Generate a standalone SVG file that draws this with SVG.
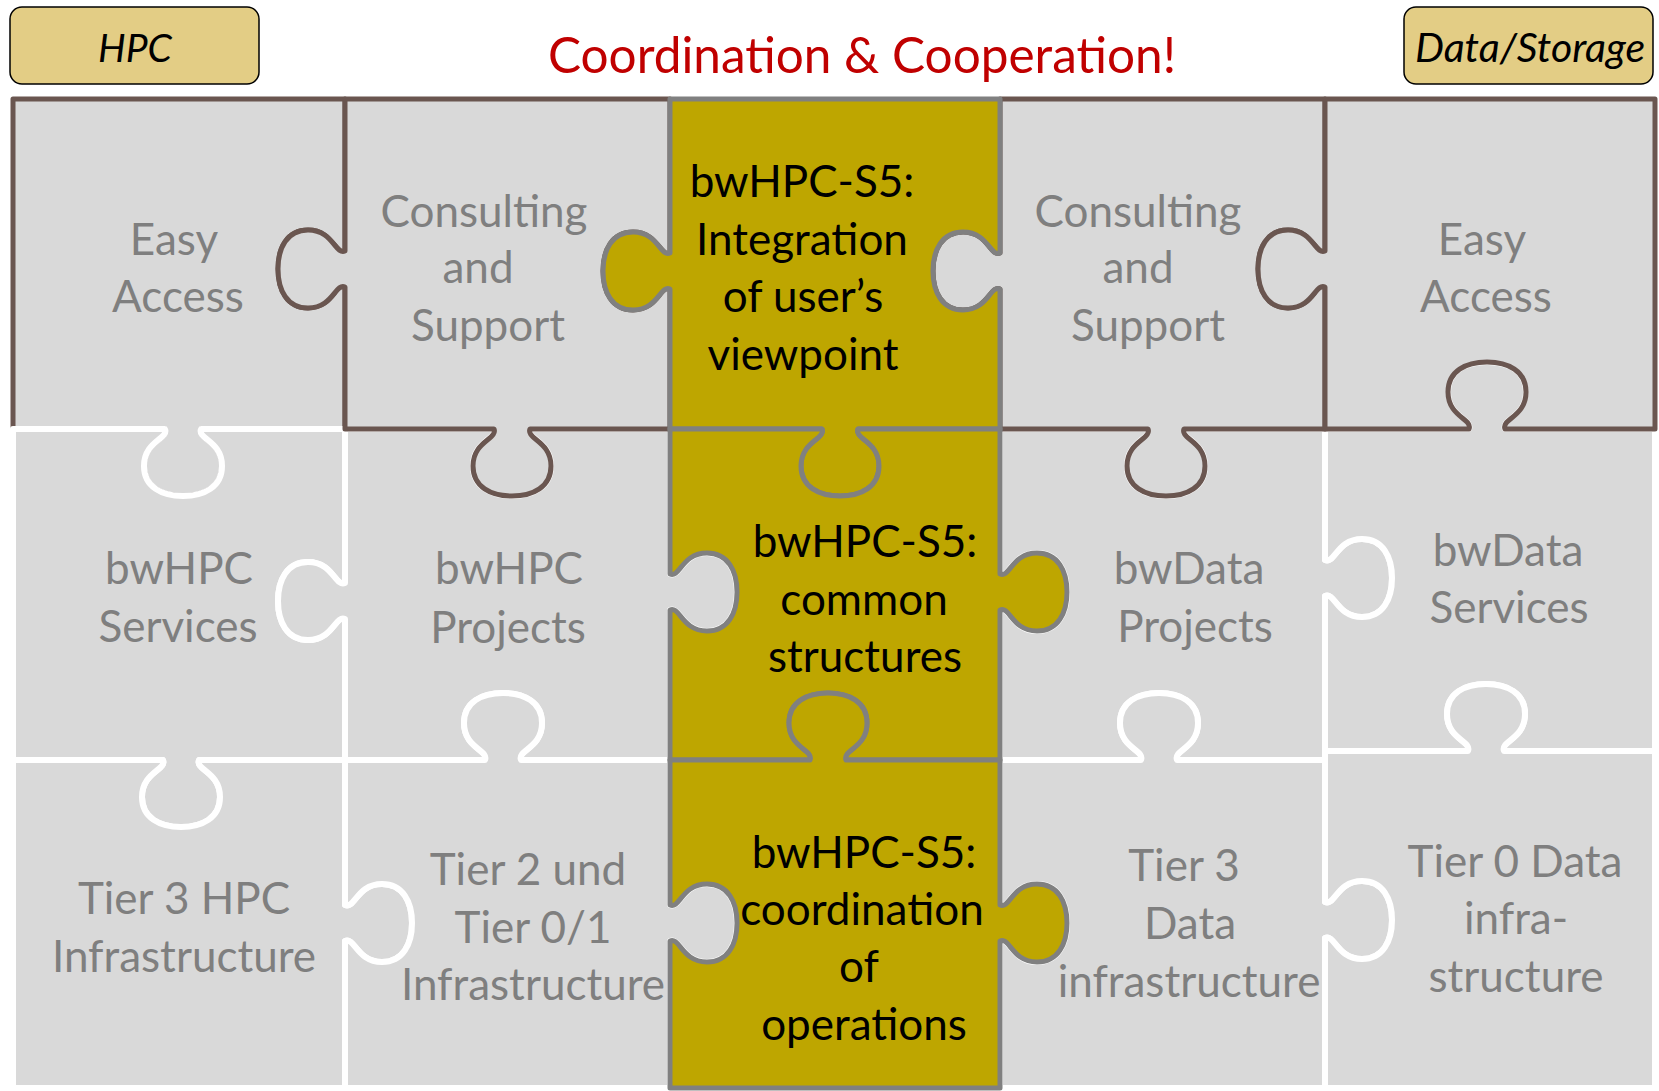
<svg xmlns="http://www.w3.org/2000/svg" width="1659" height="1091" viewBox="0 0 1659 1091">
<style>
.pc{fill:#D9D9D9;stroke-linejoin:round}
.br{stroke:#6A5650;stroke-width:5}
.wh{stroke:#FFFFFF;stroke-width:6}
.ye{fill:#BEA600;stroke:#808080;stroke-width:5;stroke-linejoin:round}
.t{font-family:Lato,"Liberation Sans",sans-serif;font-size:44px;fill:#7F7F7F;text-anchor:middle}
.k{font-family:Lato,"Liberation Sans",sans-serif;font-size:44px;fill:#000000;text-anchor:middle}
.lab{fill:#E3CD85;stroke:#000000;stroke-width:1.5}
.lt{font-family:Lato,"Liberation Sans",sans-serif;font-style:italic;fill:#000000;text-anchor:middle}
</style>
<rect width="1659" height="1091" fill="#FFFFFF"/>
<g id="hpc-label"><rect class="lab" x="10" y="7" width="249" height="77" rx="12"/><text class="lt" x="135" y="62" font-size="39">HPC</text></g>
<g id="data-label"><rect class="lab" x="1404" y="7" width="249" height="77" rx="12"/><text class="lt" x="1530" y="62" font-size="41">Data/Storage</text></g>
<text id="title" x="862" y="73" font-family="Lato,'Liberation Sans',sans-serif" font-size="49.5" fill="#C00000" text-anchor="middle">Coordination &amp; Cooperation!</text>

<g id="easy-access-hpc"><path class="pc br" d="M 13 99 L 345 99 L 345 251 C 335 255 333 230 308 230 C 287 230 278 248 278 269 C 278 290 287 308 308 308 C 333 308 335 283 345 287 L 345 429 L 201 429 C 197 439 222 441 222 466 C 222 487 204 496 183 496 C 162 496 144 487 144 466 C 144 441 169 439 165 429 L 13 429 Z"/>
<text class="t" x="174" y="255">Easy</text><text class="t" x="178" y="312">Access</text></g>

<g id="bwhpc-services"><path class="pc wh" d="M 13 429 L 165 429 C 169 439 144 441 144 466 C 144 487 162 496 183 496 C 204 496 222 487 222 466 C 222 441 197 439 201 429 L 345 429 L 345 583 C 335 587 333 562 308 562 C 287 562 278 580 278 601 C 278 622 287 640 308 640 C 333 640 335 615 345 619 L 345 760 L 199 760 C 195 770 220 772 220 797 C 220 818 202 827 181 827 C 160 827 142 818 142 797 C 142 772 167 770 163 760 L 13 760 Z"/>
<text class="t" x="179" y="584">bwHPC</text><text class="t" x="178" y="642">Services</text></g>

<g id="bwhpc-projects"><path class="pc wh" d="M 345 429 L 494 429 C 498 439 473 441 473 466 C 473 487 491 496 512 496 C 533 496 551 487 551 466 C 551 441 526 439 530 429 L 670 429 L 670 574 C 680 578 682 553 707 553 C 728 553 737 571 737 592 C 737 613 728 631 707 631 C 682 631 680 606 670 610 L 670 760 L 521 760 C 517 750 542 748 542 723 C 542 702 524 693 503 693 C 482 693 464 702 464 723 C 464 748 489 750 485 760 L 345 760 L 345 619 C 335 615 333 640 308 640 C 287 640 278 622 278 601 C 278 580 287 562 308 562 C 333 562 335 587 345 583 Z"/>
<text class="t" x="509" y="584">bwHPC</text><text class="t" x="508" y="643">Projects</text></g>

<g id="consulting-hpc"><path class="pc br" d="M 345 99 L 670 99 L 670 253 C 660 257 658 232 633 232 C 612 232 603 250 603 271 C 603 292 612 310 633 310 C 658 310 660 285 670 289 L 670 429 L 530 429 C 526 439 551 441 551 466 C 551 487 533 496 512 496 C 491 496 473 487 473 466 C 473 441 498 439 494 429 L 345 429 L 345 287 C 335 283 333 308 308 308 C 287 308 278 290 278 269 C 278 248 287 230 308 230 C 333 230 335 255 345 251 Z"/>
<text class="t" x="484" y="227">Consulting</text><text class="t" x="478" y="283">and</text><text class="t" x="488" y="341">Support</text></g>

<g id="bwdata-projects"><path class="pc wh" d="M 1000 429 L 1148 429 C 1152 439 1127 441 1127 466 C 1127 487 1145 496 1166 496 C 1187 496 1205 487 1205 466 C 1205 441 1180 439 1184 429 L 1325 429 L 1325 560 C 1335 564 1337 539 1362 539 C 1383 539 1392 557 1392 578 C 1392 599 1383 617 1362 617 C 1337 617 1335 592 1325 596 L 1325 760 L 1177 760 C 1173 750 1198 748 1198 723 C 1198 702 1180 693 1159 693 C 1138 693 1120 702 1120 723 C 1120 748 1145 750 1141 760 L 1000 760 L 1000 610 C 1010 606 1012 631 1037 631 C 1058 631 1067 613 1067 592 C 1067 571 1058 553 1037 553 C 1012 553 1010 578 1000 574 Z"/>
<text class="t" x="1189" y="584">bwData</text><text class="t" x="1195" y="642">Projects</text></g>

<g id="bwdata-services"><path class="pc wh" d="M 1325 429 L 1469 429 C 1473 419 1448 417 1448 392 C 1448 371 1466 362 1487 362 C 1508 362 1526 371 1526 392 C 1526 417 1501 419 1505 429 L 1655 429 L 1655 751 L 1504 751 C 1500 741 1525 739 1525 714 C 1525 693 1507 684 1486 684 C 1465 684 1447 693 1447 714 C 1447 739 1472 741 1468 751 L 1325 751 L 1325 596 C 1335 592 1337 617 1362 617 C 1383 617 1392 599 1392 578 C 1392 557 1383 539 1362 539 C 1337 539 1335 564 1325 560 Z"/>
<text class="t" x="1508" y="566">bwData</text><text class="t" x="1509" y="623">Services</text></g>

<g id="consulting-data"><path class="pc br" d="M 1000 99 L 1325 99 L 1325 251 C 1315 255 1313 230 1288 230 C 1267 230 1258 248 1258 269 C 1258 290 1267 308 1288 308 C 1313 308 1315 283 1325 287 L 1325 429 L 1184 429 C 1180 439 1205 441 1205 466 C 1205 487 1187 496 1166 496 C 1145 496 1127 487 1127 466 C 1127 441 1152 439 1148 429 L 1000 429 L 1000 289 C 990 285 988 310 963 310 C 942 310 933 292 933 271 C 933 250 942 232 963 232 C 988 232 990 257 1000 253 Z"/>
<text class="t" x="1138" y="227">Consulting</text><text class="t" x="1138" y="283">and</text><text class="t" x="1148" y="341">Support</text></g>

<g id="easy-access-data"><path class="pc br" d="M 1325 99 L 1655 99 L 1655 429 L 1505 429 C 1501 419 1526 417 1526 392 C 1526 371 1508 362 1487 362 C 1466 362 1448 371 1448 392 C 1448 417 1473 419 1469 429 L 1325 429 L 1325 287 C 1315 283 1313 308 1288 308 C 1267 308 1258 290 1258 269 C 1258 248 1267 230 1288 230 C 1313 230 1315 255 1325 251 Z"/>
<text class="t" x="1482" y="255">Easy</text><text class="t" x="1486" y="312">Access</text></g>

<g id="tier3-hpc"><path class="pc wh" d="M 13 760 L 163 760 C 167 770 142 772 142 797 C 142 818 160 827 181 827 C 202 827 220 818 220 797 C 220 772 195 770 199 760 L 345 760 L 345 905 C 355 909 357 884 382 884 C 403 884 412 902 412 923 C 412 944 403 962 382 962 C 357 962 355 937 345 941 L 345 1088 L 13 1088 Z"/>
<text class="t" x="184" y="914">Tier 3 HPC</text><text class="t" x="184" y="972">Infrastructure</text></g>

<g id="tier2-hpc"><path class="pc wh" d="M 345 760 L 485 760 C 489 750 464 748 464 723 C 464 702 482 693 503 693 C 524 693 542 702 542 723 C 542 748 517 750 521 760 L 670 760 L 670 905 C 680 909 682 884 707 884 C 728 884 737 902 737 923 C 737 944 728 962 707 962 C 682 962 680 937 670 941 L 670 1088 L 345 1088 L 345 941 C 355 937 357 962 382 962 C 403 962 412 944 412 923 C 412 902 403 884 382 884 C 357 884 355 909 345 905 Z"/>
<text class="t" x="528" y="885">Tier 2 und</text><text class="t" x="533" y="943">Tier 0/1</text><text class="t" x="533" y="1000">Infrastructure</text></g>

<g id="tier3-data"><path class="pc wh" d="M 1000 760 L 1141 760 C 1145 750 1120 748 1120 723 C 1120 702 1138 693 1159 693 C 1180 693 1198 702 1198 723 C 1198 748 1173 750 1177 760 L 1325 760 L 1325 902 C 1335 906 1337 881 1362 881 C 1383 881 1392 899 1392 920 C 1392 941 1383 959 1362 959 C 1337 959 1335 934 1325 938 L 1325 1088 L 1000 1088 L 1000 941 C 1010 937 1012 962 1037 962 C 1058 962 1067 944 1067 923 C 1067 902 1058 884 1037 884 C 1012 884 1010 909 1000 905 Z"/>
<text class="t" x="1184" y="881">Tier 3</text><text class="t" x="1190" y="939">Data</text><text class="t" x="1189" y="997">infrastructure</text></g>

<g id="tier0-data"><path class="pc wh" d="M 1325 751 L 1468 751 C 1472 741 1447 739 1447 714 C 1447 693 1465 684 1486 684 C 1507 684 1525 693 1525 714 C 1525 739 1500 741 1504 751 L 1655 751 L 1655 1088 L 1325 1088 L 1325 938 C 1335 934 1337 959 1362 959 C 1383 959 1392 941 1392 920 C 1392 899 1383 881 1362 881 C 1337 881 1335 906 1325 902 Z"/>
<text class="t" x="1515" y="877">Tier 0 Data</text><text class="t" x="1516" y="934">infra-</text><text class="t" x="1516" y="992">structure</text></g>

<g id="s5-integration"><path class="ye" d="M 670 99 L 1000 99 L 1000 253 C 990 257 988 232 963 232 C 942 232 933 250 933 271 C 933 292 942 310 963 310 C 988 310 990 285 1000 289 L 1000 429 L 858 429 C 854 439 879 441 879 466 C 879 487 861 496 840 496 C 819 496 801 487 801 466 C 801 441 826 439 822 429 L 670 429 L 670 289 C 660 285 658 310 633 310 C 612 310 603 292 603 271 C 603 250 612 232 633 232 C 658 232 660 257 670 253 Z"/>
<text class="k" x="802" y="197">bwHPC-S5:</text><text class="k" x="802" y="255">Integration</text><text class="k" x="803" y="312">of user’s</text><text class="k" x="803" y="370">viewpoint</text></g>

<g id="s5-common"><path class="ye" d="M 670 429 L 822 429 C 826 439 801 441 801 466 C 801 487 819 496 840 496 C 861 496 879 487 879 466 C 879 441 854 439 858 429 L 1000 429 L 1000 574 C 1010 578 1012 553 1037 553 C 1058 553 1067 571 1067 592 C 1067 613 1058 631 1037 631 C 1012 631 1010 606 1000 610 L 1000 760 L 846 760 C 842 750 867 748 867 723 C 867 702 849 693 828 693 C 807 693 789 702 789 723 C 789 748 814 750 810 760 L 670 760 L 670 610 C 680 606 682 631 707 631 C 728 631 737 613 737 592 C 737 571 728 553 707 553 C 682 553 680 578 670 574 Z"/>
<text class="k" x="865" y="557">bwHPC-S5:</text><text class="k" x="864" y="615">common</text><text class="k" x="865" y="672">structures</text></g>

<g id="s5-operations"><path class="ye" d="M 670 760 L 810 760 C 814 750 789 748 789 723 C 789 702 807 693 828 693 C 849 693 867 702 867 723 C 867 748 842 750 846 760 L 1000 760 L 1000 905 C 1010 909 1012 884 1037 884 C 1058 884 1067 902 1067 923 C 1067 944 1058 962 1037 962 C 1012 962 1010 937 1000 941 L 1000 1088 L 670 1088 L 670 941 C 680 937 682 962 707 962 C 728 962 737 944 737 923 C 737 902 728 884 707 884 C 682 884 680 909 670 905 Z"/>
<text class="k" x="864" y="868">bwHPC-S5:</text><text class="k" x="862" y="925">coordination</text><text class="k" x="859" y="982">of</text><text class="k" x="864" y="1040">operations</text></g>
</svg>
